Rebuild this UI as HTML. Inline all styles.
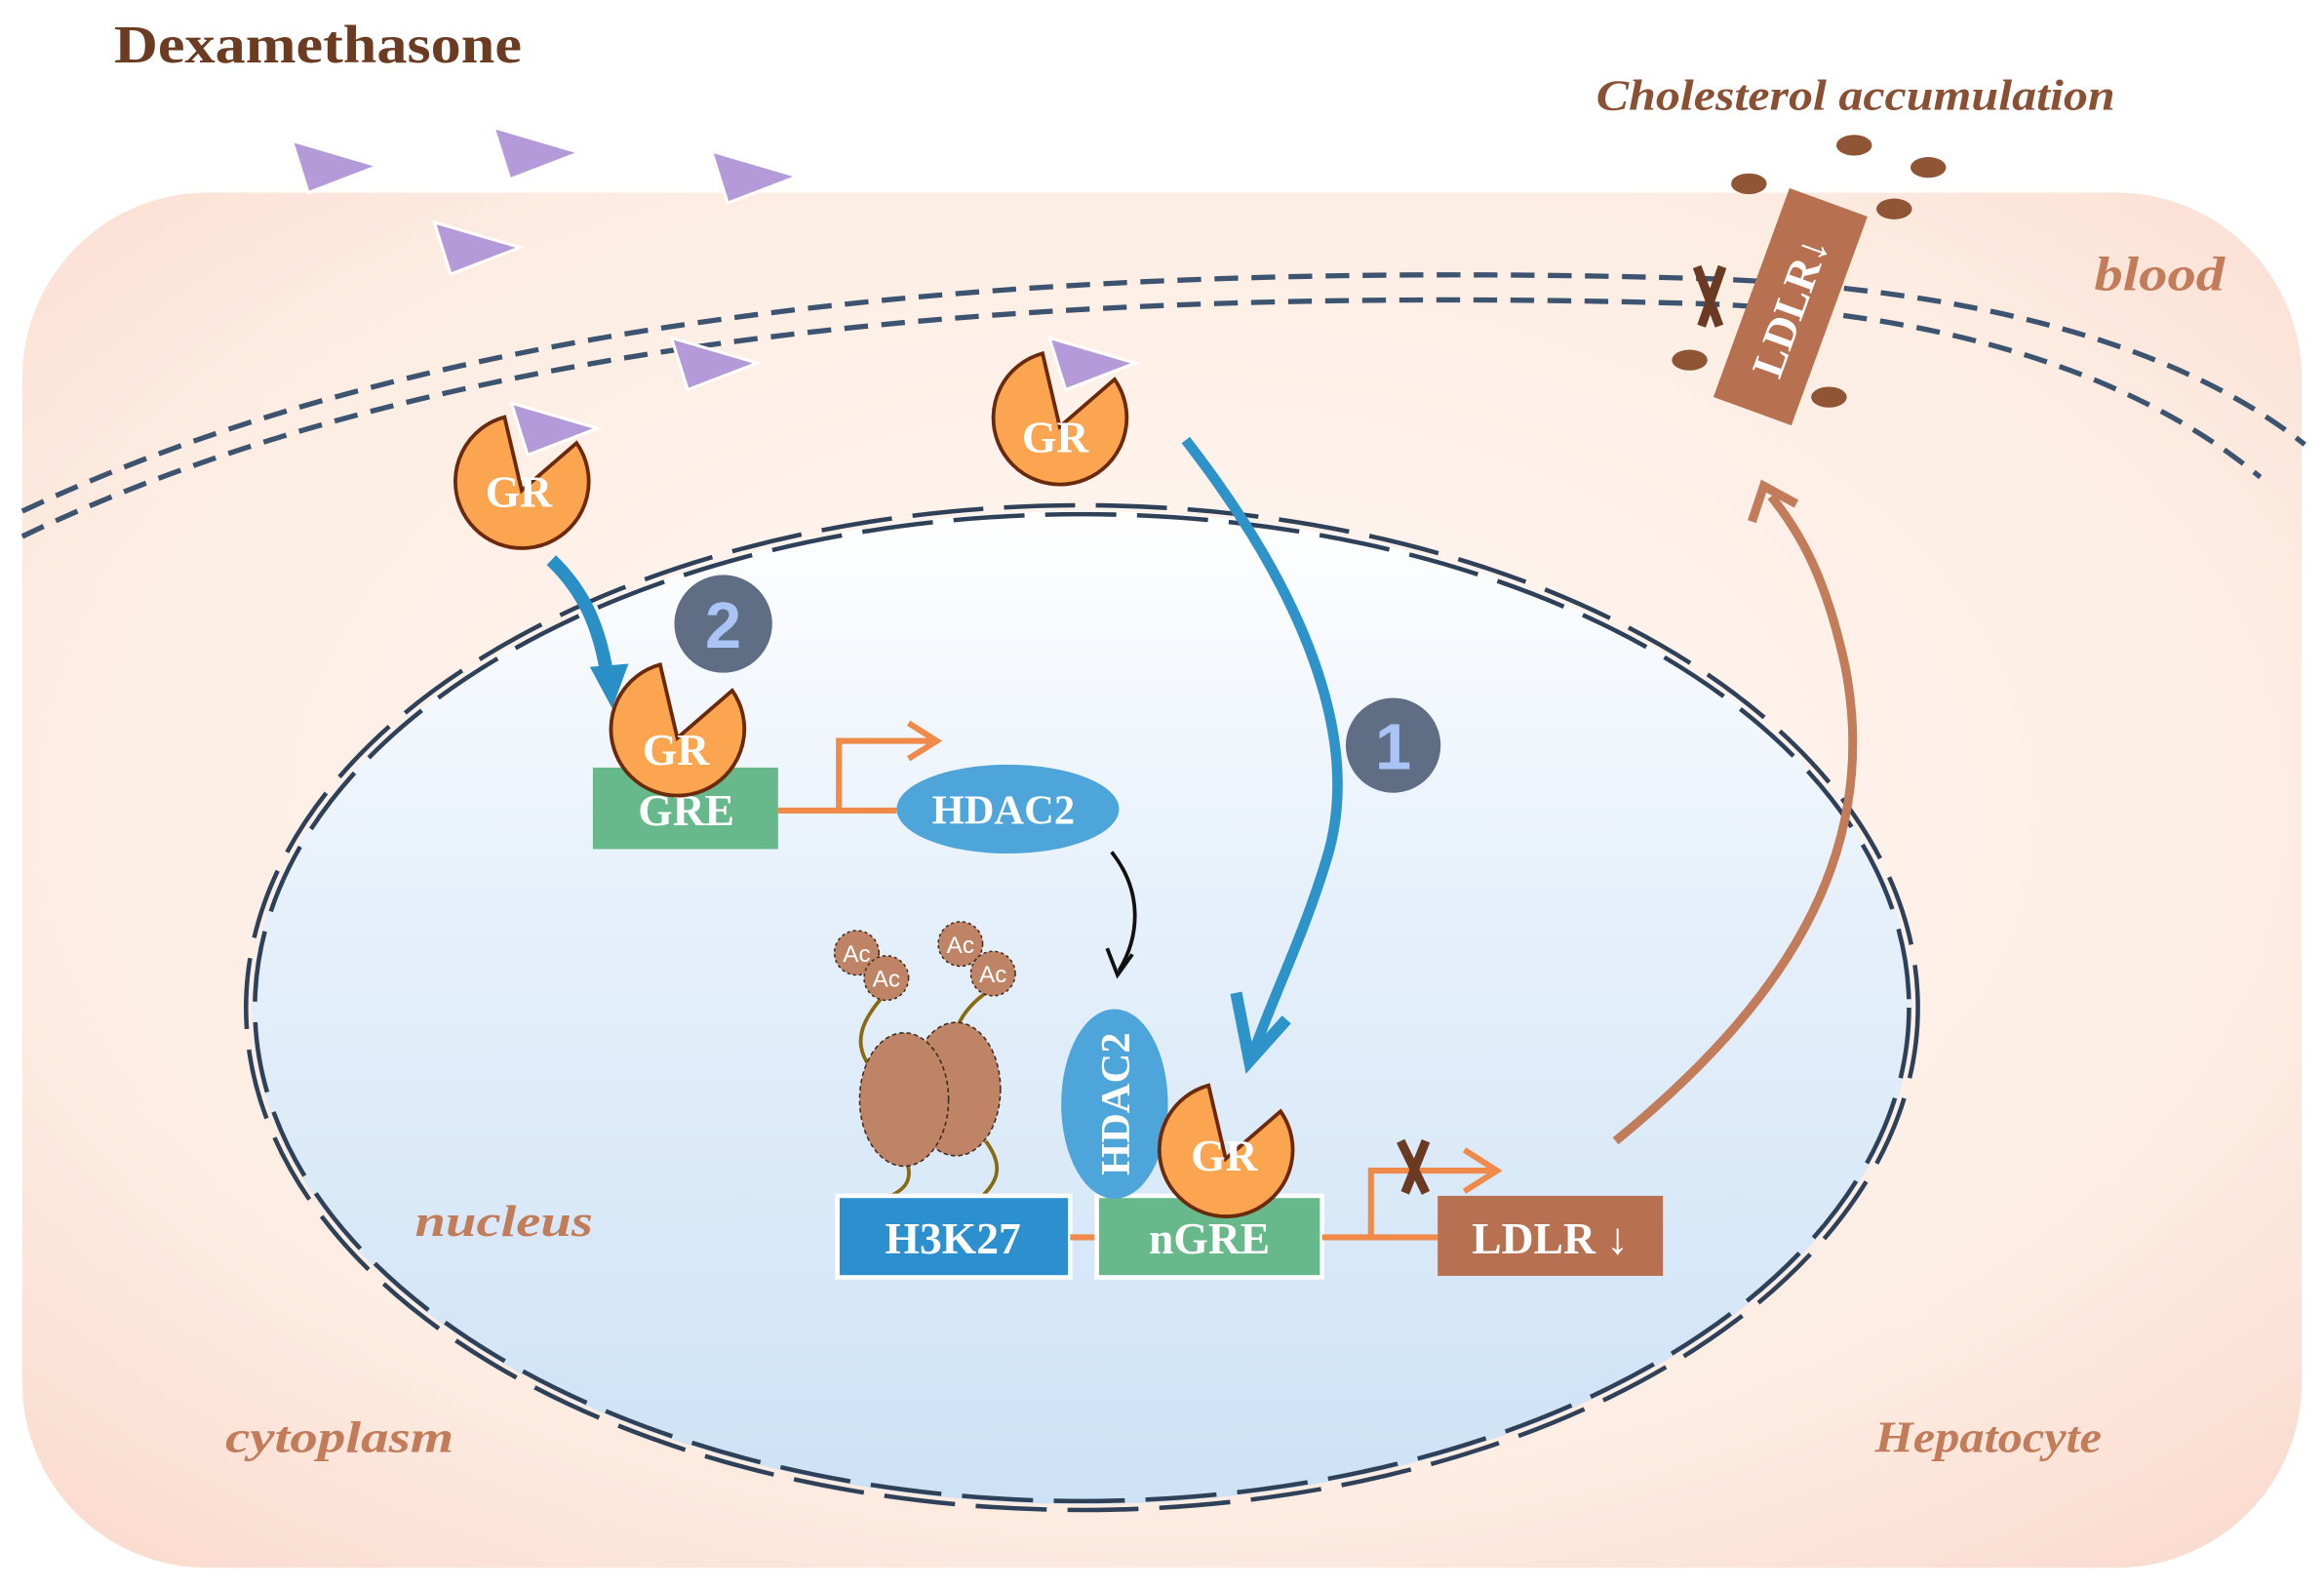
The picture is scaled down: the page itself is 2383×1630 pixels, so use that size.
<!DOCTYPE html>
<html><head><meta charset="utf-8"><style>html,body{margin:0;padding:0;background:#fff}svg{display:block}</style></head><body>
<svg width="2383" height="1630" viewBox="0 0 1568 1073" preserveAspectRatio="none" xmlns="http://www.w3.org/2000/svg" font-family="Liberation Serif, serif">
<defs>
<radialGradient id="cell" cx="0.5" cy="0.45" r="0.7">
<stop offset="0" stop-color="#fff8f3"/><stop offset="0.7" stop-color="#fdede3"/><stop offset="1" stop-color="#fbdcd0"/></radialGradient>
<linearGradient id="nuc" x1="0" y1="0" x2="0" y2="1">
<stop offset="0" stop-color="#ffffff"/><stop offset="0.4" stop-color="#e6f0fa"/><stop offset="1" stop-color="#cde2f6"/></linearGradient>
<g id="gr"><path d="M0,6 L37,-26 A45 45 0 1 1 -11.6,-43.5 Z" fill="#fba550" stroke="#6b2a0c" stroke-width="2.5"/></g>
<g id="tri"><polygon points="0,0 58,17 11,35" fill="#b49ad8" stroke="#fff" stroke-width="2"/></g>
</defs>
<rect x="0" y="0" width="1568" height="1073" fill="#fff"/>
<rect x="15" y="130" width="1538" height="928" rx="125" fill="url(#cell)"/>
<path d="M15,345 C300,210 700,175 1150,188 C1350,195 1480,240 1555,300" fill="none" stroke="#3d5470" stroke-width="3.5" stroke-dasharray="16,9"/>
<path d="M15,362 C300,225 700,192 1150,205 C1330,212 1450,260 1525,322" fill="none" stroke="#3d5470" stroke-width="3.5" stroke-dasharray="16,9"/>
<ellipse cx="730" cy="680" rx="560" ry="335" fill="url(#nuc)"/>
<ellipse cx="730" cy="680" rx="558" ry="333" fill="none" stroke="#2f4158" stroke-width="3" stroke-dasharray="48,14"/>
<ellipse cx="730" cy="680" rx="564" ry="339" fill="none" stroke="#2f4158" stroke-width="3" stroke-dasharray="48,14"/>
<text x="77" y="42" font-size="36" font-weight="bold" fill="#6b3b22" textLength="275" lengthAdjust="spacingAndGlyphs">Dexamethasone</text>
<text x="1077" y="74" font-size="29" font-style="italic" font-weight="bold" fill="#8a5034" textLength="350" lengthAdjust="spacingAndGlyphs">Cholesterol accumulation</text>
<text x="1413" y="196" font-size="33" font-style="italic" font-weight="bold" fill="#c27c5a" textLength="88" lengthAdjust="spacingAndGlyphs">blood</text>
<text x="280" y="834" font-size="30" font-style="italic" font-weight="bold" fill="#c27c5a" textLength="120" lengthAdjust="spacingAndGlyphs">nucleus</text>
<text x="152" y="980" font-size="30" font-style="italic" font-weight="bold" fill="#c27c5a" textLength="154" lengthAdjust="spacingAndGlyphs">cytoplasm</text>
<text x="1265" y="980" font-size="30" font-style="italic" font-weight="bold" fill="#c27c5a" textLength="153" lengthAdjust="spacingAndGlyphs">Hepatocyte</text>
<use href="#tri" x="197" y="95"/><use href="#tri" x="333" y="86"/><use href="#tri" x="480" y="102"/>
<use href="#tri" x="293" y="150"/><use href="#tri" x="453" y="228"/>
<g transform="translate(1208,207) rotate(20)">
<rect x="-28" y="-75" width="56" height="150" fill="#b87150"/>
<text x="0" y="10" font-size="30" font-weight="bold" fill="#fff" text-anchor="middle" transform="rotate(-90)">LDLR↓</text>
</g>
<g fill="#8f5535"><ellipse cx="1180" cy="124" rx="12" ry="7"/><ellipse cx="1251" cy="98" rx="12" ry="7"/><ellipse cx="1301" cy="113" rx="12" ry="7"/><ellipse cx="1278" cy="141" rx="12" ry="7"/><ellipse cx="1140" cy="243" rx="12" ry="7"/><ellipse cx="1234" cy="268" rx="12" ry="7"/></g>
<path d="M1145,180 L1160,220 M1162,180 L1148,220" stroke="#6b3a22" stroke-width="6"/>
<use href="#gr" x="352" y="325"/><use href="#tri" x="345" y="272"/>
<text x="350" y="342" font-size="30" font-weight="bold" fill="#fff" text-anchor="middle">GR</text>
<use href="#gr" x="715" y="282"/><use href="#tri" x="708" y="228"/>
<text x="712" y="305" font-size="30" font-weight="bold" fill="#fff" text-anchor="middle">GR</text>
<path d="M372,378 C395,400 405,425 410,458" fill="none" stroke="#2a8fc4" stroke-width="9"/>
<polygon points="398,450 424,448 413,478" fill="#2a8fc4"/>
<path d="M800,297 C880,400 920,500 895,580 C880,630 860,670 845,712" fill="none" stroke="#2e93c8" stroke-width="7"/>
<path d="M834,670 L843,716 L868,688" fill="none" stroke="#2e93c8" stroke-width="8" stroke-linejoin="miter"/>
<circle cx="488" cy="421" r="33" fill="#5f6e85"/><text x="488" y="437" font-size="44" font-family="Liberation Sans, sans-serif" font-weight="bold" fill="#a9c4f5" text-anchor="middle">2</text>
<circle cx="940" cy="503" r="32" fill="#5f6e85"/><text x="940" y="519" font-size="44" font-family="Liberation Sans, sans-serif" font-weight="bold" fill="#a9c4f5" text-anchor="middle">1</text>
<rect x="400" y="518" width="125" height="55" fill="#67b98c"/>
<text x="463" y="557" font-size="30" font-weight="bold" fill="#fff" text-anchor="middle">GRE</text>
<use href="#gr" x="457" y="492"/>
<text x="456" y="516" font-size="30" font-weight="bold" fill="#fff" text-anchor="middle">GR</text>
<path d="M525,547 H605 M566,547 V500 H630 M613,488 L632,500 L613,512" fill="none" stroke="#ef8a4a" stroke-width="4"/>
<ellipse cx="680" cy="546" rx="75" ry="30" fill="#4ea5d9"/>
<text x="677" y="556" font-size="28" font-weight="bold" fill="#fff" text-anchor="middle">HDAC2</text>
<path d="M750,575 C770,600 770,630 755,655" fill="none" stroke="#111" stroke-width="2.5"/>
<path d="M747,640 L754,658 L764,644" fill="none" stroke="#111" stroke-width="2.5"/>
<g stroke="#8a6a10" stroke-width="2.5" fill="none">
<path d="M598,670 C570,700 580,715 600,735"/><path d="M668,668 C635,690 640,720 650,735"/>
<path d="M610,780 C620,800 605,805 595,810"/><path d="M665,770 C680,790 670,800 660,810"/></g>
<ellipse cx="645" cy="735" rx="30" ry="45" fill="#bf8466" stroke="#3a2a20" stroke-width="1" stroke-dasharray="3,2"/>
<ellipse cx="610" cy="742" rx="30" ry="45" fill="#bf8466" stroke="#3a2a20" stroke-width="1" stroke-dasharray="3,2"/>
<g fill="#bf8466" stroke="#3a2a20" stroke-width="1" stroke-dasharray="2,2"><circle cx="578" cy="643" r="15"/><circle cx="598" cy="660" r="15"/><circle cx="648" cy="637" r="15"/><circle cx="670" cy="657" r="15"/></g>
<g font-family="Liberation Sans, sans-serif" font-size="16" fill="#fff" text-anchor="middle"><text x="578" y="649">Ac</text><text x="598" y="666">Ac</text><text x="648" y="643">Ac</text><text x="670" y="663">Ac</text></g>
<rect x="565" y="807" width="157" height="55" fill="#2c90cf" stroke="#fff" stroke-width="3"/>
<text x="643" y="846" font-size="30" font-weight="bold" fill="#fff" text-anchor="middle">H3K27</text>
<line x1="722" y1="835" x2="740" y2="835" stroke="#ef8a4a" stroke-width="4"/>
<rect x="740" y="807" width="152" height="55" fill="#67b98c" stroke="#fff" stroke-width="3"/>
<text x="816" y="846" font-size="30" font-weight="bold" fill="#fff" text-anchor="middle">nGRE</text>
<ellipse cx="752" cy="745" rx="36" ry="64" fill="#4ea5d9"/>
<text x="752" y="745" font-size="28" font-weight="bold" fill="#fff" text-anchor="middle" transform="rotate(-90 752 745) translate(0,10)">HDAC2</text>
<use href="#gr" x="827" y="776"/>
<text x="826" y="790" font-size="30" font-weight="bold" fill="#fff" text-anchor="middle">GR</text>
<path d="M892,835 H970 M925,835 V790 H1010 M988,776 L1010,790 L988,804" fill="none" stroke="#ef8a4a" stroke-width="4"/>
<path d="M945,770 L962,805 M962,770 L948,805" stroke="#6b3a22" stroke-width="6"/>
<rect x="970" y="807" width="152" height="54" fill="#b87150"/>
<text x="1046" y="846" font-size="30" font-weight="bold" fill="#fff" text-anchor="middle">LDLR ↓</text>
<path d="M1090,770 C1200,680 1270,580 1245,450 C1232,390 1215,360 1195,335" fill="none" stroke="#c27c5a" stroke-width="6"/>
<path d="M1182,352 L1190,328 L1212,340" fill="none" stroke="#c27c5a" stroke-width="6"/>
</svg>
</body></html>
